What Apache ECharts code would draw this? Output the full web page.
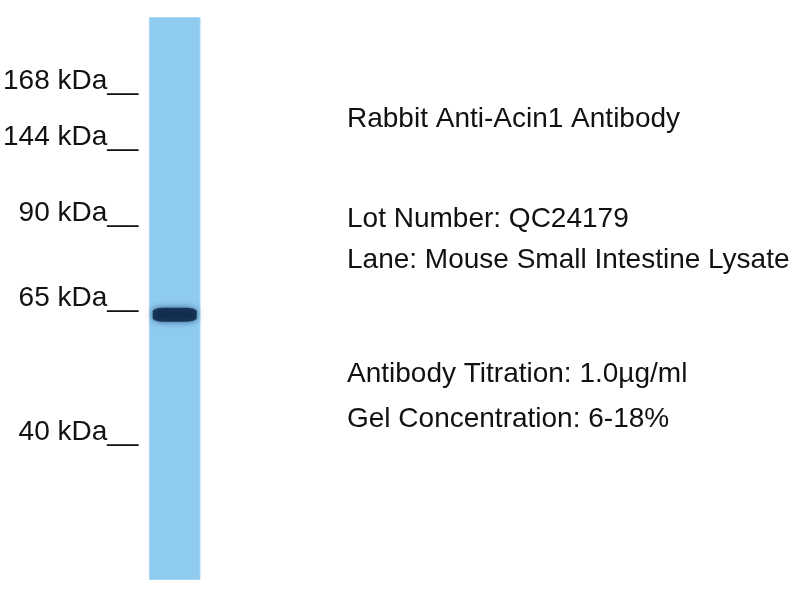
<!DOCTYPE html>
<html>
<head>
<meta charset="utf-8">
<script src="https://cdn.jsdelivr.net/npm/echarts@6/dist/echarts.min.js"></script>
<style>
  html, body { margin: 0; padding: 0; background: #ffffff; }
  #chart { width: 800px; height: 600px; }
</style>
</head>
<body>
<div id="chart"></div>
<script>
// ---- data ----
const laneNames = ['Mouse Small Intestine Lysate'];
const laneLength = [100];                       // migration scale, % of lane
const markerLabels = ['168 kDa', '144 kDa', '90 kDa', '65 kDa', '40 kDa'];
const markerKDa = [168, 144, 90, 65, 40];
const markerPositions = [13.3, 23.3, 36.9, 52.0, 75.7]; // migration % of lane
const bandPositions = [52.9];                   // detected band, migration %
const infoLines = [
  'Rabbit Anti-Acin1 Antibody',
  'Lot Number: QC24179',
  'Lane: Mouse Small Intestine Lysate',
  'Antibody Titration: 1.0\u00b5g/ml',
  'Gel Concentration: 6-18%'
];
const infoY = [119, 219, 260, 374, 419];

const FONT = 'Arial, "Liberation Sans", sans-serif';
const chart = echarts.init(document.getElementById('chart'), null, { renderer: 'canvas' });

const option = {
  backgroundColor: '#ffffff',
  animation: false,
  grid: { left: 148, top: 17, width: 52, height: 563 },
  xAxis: {
    type: 'category',
    data: laneNames,
    show: false
  },
  yAxis: {
    type: 'value',
    inverse: true,
    min: 0,
    max: 100,
    splitLine: { show: false },
    axisLine: { show: false },
    axisTick: { show: false },
    axisLabel: {
      customValues: markerPositions,
      margin: 11,
      color: '#111111',
      fontSize: 28,
      fontFamily: FONT,
      verticalAlign: 'bottom',
      lineHeight: 22,
      formatter: function (v) {
        const i = markerPositions.indexOf(v);
        return (i >= 0 ? markerLabels[i] : '') + '__';
      }
    }
  },
  series: [
    {
      type: 'bar',
      data: laneLength,
      barWidth: 52,
      itemStyle: { color: '#8fcbef', borderColor: '#a9d8f4', borderWidth: 1 },
      silent: true
    },
    {
      type: 'scatter',
      data: bandPositions.map(function (p) { return [laneNames[0], p]; }),
      symbol: 'roundRect',
      symbolSize: [44, 14],
      itemStyle: {
        color: '#071f3f',
        shadowBlur: 6,
        shadowColor: 'rgba(15,50,100,0.9)'
      },
      silent: true
    }
  ],
  graphic: infoLines.map(function (t, i) {
    return {
      type: 'text',
      x: 347,
      y: infoY[i],
      style: {
        text: t,
        font: '28px ' + FONT,
        fill: '#111111',
        verticalAlign: 'middle',
        align: 'left'
      }
    };
  })
};
chart.setOption(option);
</script>
</body>
</html>
